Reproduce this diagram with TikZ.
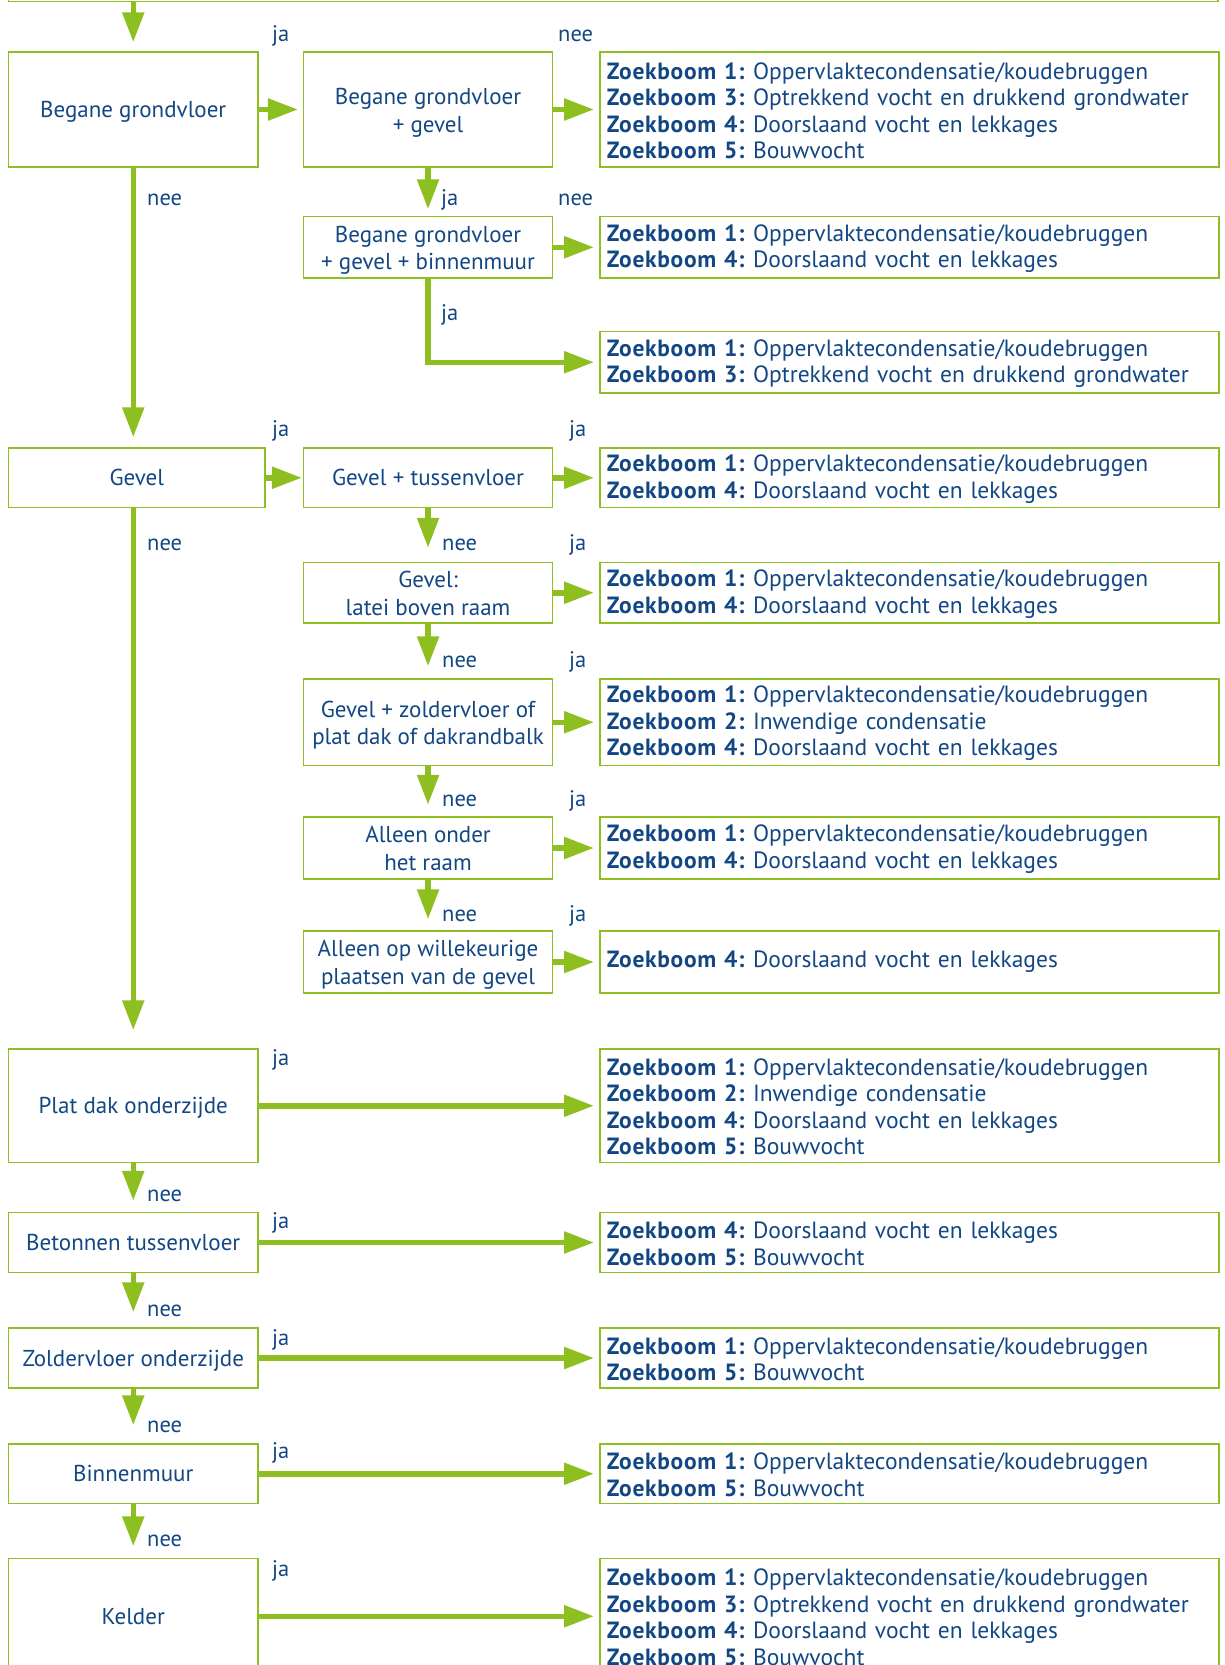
\documentclass[tikz,border=0pt]{standalone}
\usepackage{fontspec}
\setmainfont{PT Sans}[BoldFeatures={LetterSpace=3}]
\usetikzlibrary{arrows.meta}
\definecolor{leafgreen}{HTML}{8CBF1F}
\definecolor{inkblue}{HTML}{124784}
\frenchspacing

% search-tree references
\newcommand\zbone{\textbf{Zoekboom 1:} Oppervlaktecondensatie/koudebruggen}
\newcommand\zbtwo{\textbf{Zoekboom 2:} Inwendige condensatie}
\newcommand\zbthree{\textbf{Zoekboom 3:} Optrekkend vocht en drukkend grondwater}
\newcommand\zbfour{\textbf{Zoekboom 4:} Doorslaand vocht en lekkages}
\newcommand\zbfive{\textbf{Zoekboom 5:} Bouwvocht}

% fixed line extents so that all box texts sit alike
\newcommand\topstrut{\rule{0pt}{23.5pt}}
\newcommand\botstrut{\rule[-6pt]{0pt}{6pt}}
\newcommand\onestrut{\rule[-7.5pt]{0pt}{31pt}}

% question box given by its corners: name, x1, y1, x2, y2, text
\newcommand\placebox[6]{\node[qbox, minimum width={#4-#2}, minimum height={#5-#3}] (#1) at ({(#2+#4)/2},{(#3+#5)/2}) {#6};}
% result box in the right column: name, y1, y2, text
\newcommand\placeres[4]{\node[resbox, minimum height={#3-#2}] (#1) at (599,{(#2+#3)/2}) {\rule{0pt}{19pt}#4};}

\begin{document}
\begin{tikzpicture}[x=1pt, y=-1pt,
  font=\fontsize{23.5}{26.5}\selectfont, text=inkblue,
  qbox/.style={draw=leafgreen, line width=1.5pt, inner xsep=0pt, inner ysep=0pt,
    align=center, font=\fontsize{23}{27.6}\selectfont},
  resbox/.style={draw=leafgreen, line width=1.5pt, inner xsep=7pt, inner ysep=0pt,
    text width=605pt, align=left, anchor=west},
  flow/.style={draw=leafgreen, line width=5.5pt, -{Triangle[length=30pt,width=21pt]}},
  lbl/.style={anchor=base west, inner sep=0pt, font=\fontsize{22.5}{26}\selectfont}]
\useasboundingbox (0,0) rectangle (1224,1665);
\clip (0,0) rectangle (1224,1665);

% boxes
\placebox{start}{8.5}{-100}{1218}{1.5}{}
\placebox{bg}{8.5}{52}{258}{167}{\onestrut Begane grondvloer}
\placebox{bgg}{303.7}{52}{552.4}{167}{\topstrut Begane grondvloer\\+ gevel\botstrut}
\placebox{bgb}{303.7}{216.5}{552.4}{278}{\topstrut Begane grondvloer\\+ gevel + binnenmuur\botstrut}
\placebox{gevel}{8.5}{448}{265}{507.5}{\onestrut Gevel}
\placebox{gt}{303.7}{448}{552.4}{507.5}{\onestrut Gevel + tussenvloer}
\placebox{latei}{303.7}{562.5}{552.4}{623}{\topstrut Gevel:\\latei boven raam\botstrut}
\placebox{zolder}{303.7}{679}{552.4}{765.5}{\topstrut Gevel + zoldervloer of\\plat dak of dakrandbalk\botstrut}
\placebox{alleen}{303.7}{817}{552.4}{879}{\topstrut Alleen onder\\het raam\botstrut}
\placebox{wille}{303.7}{931}{552.4}{993}{\topstrut Alleen op willekeurige\\plaatsen van de gevel\botstrut}
\placebox{platdak}{8.5}{1049}{258}{1162.5}{\onestrut Plat dak onderzijde}
\placebox{beton}{8.5}{1212.5}{258}{1272.5}{\onestrut Betonnen tussenvloer}
\placebox{zonder}{8.5}{1328}{258}{1388}{\onestrut Zoldervloer onderzijde}
\placebox{binnen}{8.5}{1444}{258}{1503.5}{\onestrut Binnenmuur}
\placebox{kelder}{8.5}{1558.5}{258}{1674}{\onestrut Kelder}

\placeres{res1}{52}{167}{\zbone\\\zbthree\\\zbfour\\\zbfive}
\placeres{res2}{216.5}{278}{\zbone\\\zbfour}
\placeres{res3}{331.5}{393}{\zbone\\\zbthree}
\placeres{res4}{448}{507.5}{\zbone\\\zbfour}
\placeres{res5}{562.5}{623}{\zbone\\\zbfour}
\placeres{res6}{679}{765.5}{\zbone\\\zbtwo\\\zbfour}
\placeres{res7}{817}{879}{\zbone\\\zbfour}
\placeres{res8}{931}{993}{\strut\zbfour}
\placeres{res9}{1049}{1162.5}{\zbone\\\zbtwo\\\zbfour\\\zbfive}
\placeres{res10}{1212.5}{1272.5}{\zbfour\\\zbfive}
\placeres{res11}{1328}{1388}{\zbone\\\zbfive}
\placeres{res12}{1444}{1503.5}{\zbone\\\zbfive}
\placeres{res13}{1558.5}{1674}{\zbone\\\zbthree\\\zbfour\\\zbfive}

% connectors
\draw[flow, shorten >=9pt] (start.south -| bg.north) -- (bg.north);
\draw[flow, shorten >=5pt] (bg.east) -- (bgg.west);
\draw[flow, shorten >=5pt] (bgg.east) -- (bgg.east -| res1.west);
\draw[flow, shorten >=6.5pt] (bgg.south) -- (bgb.north);
\draw[flow, shorten >=5pt] (bgb.east) -- (bgb.east -| res2.west);
\draw[flow, shorten >=5pt] (bgb.south) |- (res3.west);
\draw[flow, shorten >=10pt] (bg.south) -- (bg.south |- gevel.north);
\draw[flow, shorten >=1pt] (gevel.east) -- (gt.west);
\draw[flow, shorten >=5pt] (gt.east) -- (gt.east -| res4.west);
\draw[flow, shorten >=14pt] (gt.south) -- (latei.north);
\draw[flow, shorten >=5pt] (latei.east) -- (latei.east -| res5.west);
\draw[flow, shorten >=12pt] (latei.south) -- (zolder.north);
\draw[flow, shorten >=5pt] (zolder.east) -- (zolder.east -| res6.west);
\draw[flow, shorten >=11.5pt] (zolder.south) -- (alleen.north);
\draw[flow, shorten >=5pt] (alleen.east) -- (alleen.east -| res7.west);
\draw[flow, shorten >=11pt] (alleen.south) -- (wille.north);
\draw[flow, shorten >=5pt] (wille.east) -- (wille.east -| res8.west);
\draw[flow, shorten >=18pt] (gevel.south -| platdak.north) -- (platdak.north);
\draw[flow, shorten >=5pt] (platdak.east) -- (platdak.east -| res9.west);
\draw[flow, shorten >=11pt] (platdak.south) -- (beton.north);
\draw[flow, shorten >=5pt] (beton.east) -- (beton.east -| res10.west);
\draw[flow, shorten >=15pt] (beton.south) -- (zonder.north);
\draw[flow, shorten >=5pt] (zonder.east) -- (zonder.east -| res11.west);
\draw[flow, shorten >=18pt] (zonder.south) -- (binnen.north);
\draw[flow, shorten >=5pt] (binnen.east) -- (binnen.east -| res12.west);
\draw[flow, shorten >=11.5pt] (binnen.south) -- (kelder.north);
\draw[flow, shorten >=5pt] (kelder.east) -- (kelder.east -| res13.west);

% answer labels
\node[lbl] (la1) at (272,41.5) {ja};
\node[lbl] (la2) at (558,41.5) {nee};
\node[lbl] (la3) at (147,205.5) {nee};
\node[lbl] (la4) at (441,205) {ja};
\node[lbl] (la5) at (558,205) {nee};
\node[lbl] (la6) at (441,320) {ja};
\node[lbl] (la7) at (272,436) {ja};
\node[lbl] (la8) at (569,436) {ja};
\node[lbl] (la9) at (147,550.5) {nee};
\node[lbl] (la10) at (442,550.5) {nee};
\node[lbl] (la11) at (569,550.5) {ja};
\node[lbl] (la12) at (442,667) {nee};
\node[lbl] (la13) at (569,667) {ja};
\node[lbl] (la14) at (442,806) {nee};
\node[lbl] (la15) at (569,806) {ja};
\node[lbl] (la16) at (442,921.7) {nee};
\node[lbl] (la17) at (569,921.7) {ja};
\node[lbl] (la18) at (272,1065) {ja};
\node[lbl] (la19) at (147,1201.7) {nee};
\node[lbl] (la20) at (272,1228.5) {ja};
\node[lbl] (la21) at (147,1316.7) {nee};
\node[lbl] (la22) at (272,1345) {ja};
\node[lbl] (la23) at (147,1432.7) {nee};
\node[lbl] (la24) at (272,1458) {ja};
\node[lbl] (la25) at (147,1546.7) {nee};
\node[lbl] (la26) at (272,1576) {ja};
\end{tikzpicture}
\end{document}
